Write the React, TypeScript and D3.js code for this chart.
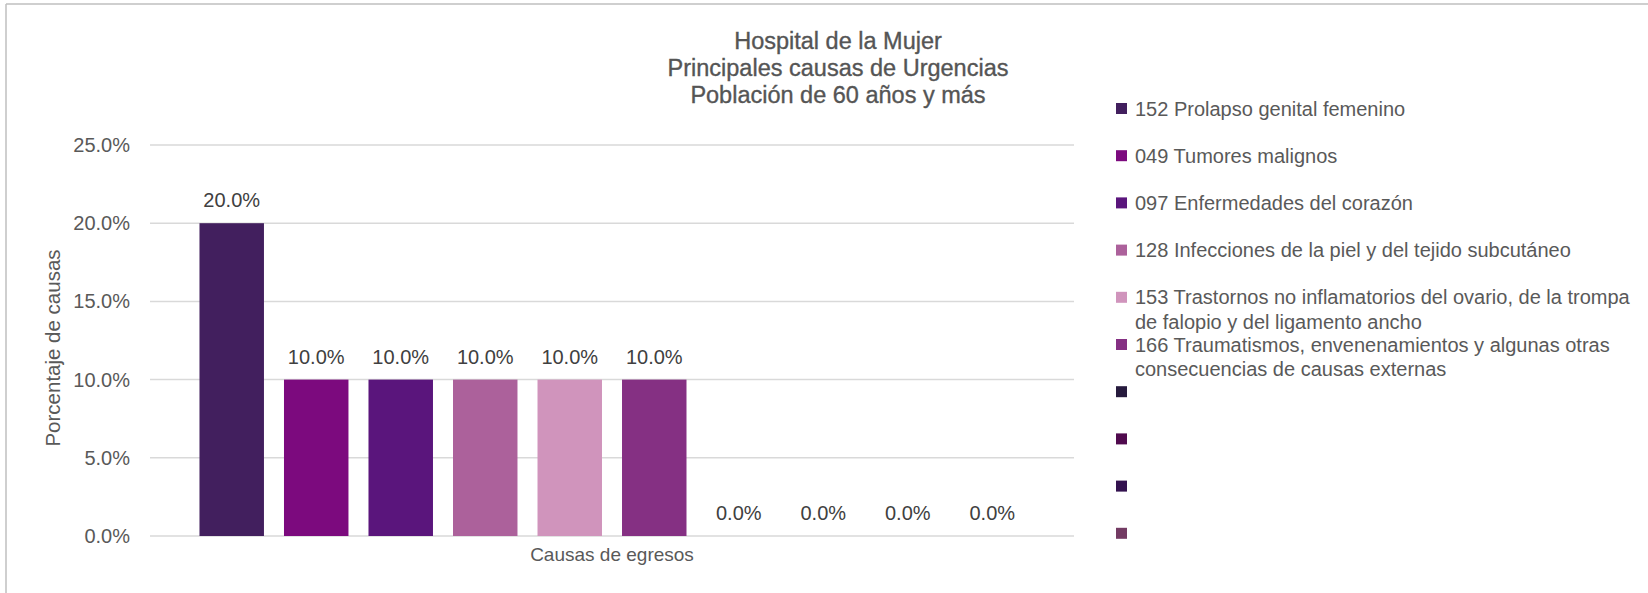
import React from "react";
import * as d3 from "d3";

const titleLines = [
  "Hospital de la Mujer",
  "Principales causas de Urgencias",
  "Población de 60 años y más",
];
const categories = ["Causas de egresos"];
const seriesNames = [
  "152 Prolapso genital femenino",
  "049 Tumores malignos",
  "097 Enfermedades del corazón",
  "128 Infecciones de la piel y del tejido subcutáneo",
  "153 Trastornos no inflamatorios del ovario, de la trompa\nde falopio y del ligamento ancho",
  "166 Traumatismos, envenenamientos y algunas otras\nconsecuencias de causas externas",
  "",
  "",
  "",
  "",
];
const seriesValues = [0.2, 0.1, 0.1, 0.1, 0.1, 0.1, 0, 0, 0, 0];
const seriesColors = [
  "#421F5E",
  "#7C0A7E",
  "#5A157C",
  "#AC619B",
  "#D094BC",
  "#853083",
  "#261A3D",
  "#500A4E",
  "#33124F",
  "#733B63",
];
const yTicks = [0, 0.05, 0.1, 0.15, 0.2, 0.25];
const yAxisTitle = "Porcentaje de causas";

const W = 1648;
const H = 593;
const FONT = "'Liberation Sans', Arial, sans-serif";

export default function App() {
  const y = d3.scaleLinear().domain([0, 0.25]).range([536, 145]);
  const x0 = d3
    .scaleBand<string>()
    .domain(categories)
    .range([150, 1074])
    .paddingInner(0)
    .paddingOuter(0.0467);
  const x1 = d3
    .scaleBand<number>()
    .domain(d3.range(seriesValues.length))
    .range([0, x0.bandwidth()])
    .paddingInner(0.237)
    .paddingOuter(0.1185);
  const fmt = d3.format(".1%");
  const cat = categories[0];
  const cx = (x0(cat) ?? 0) + x0.bandwidth() / 2;

  const legendX = 1116;
  const legendY0 = 108.5;
  const legendStep = 47.2;

  return (
    <svg
      width={W}
      height={H}
      style={{ position: "absolute", left: 0, top: 0, background: "#fff" }}
      fontFamily={FONT}
    >
      <rect x={0} y={0} width={W} height={H} fill="#fff" />
      {/* chart border */}
      <line x1={6} y1={4} x2={W} y2={4} stroke="#BFBFBF" strokeWidth={1.5} />
      <line x1={6} y1={4} x2={6} y2={H} stroke="#BFBFBF" strokeWidth={1.5} />

      {/* title */}
      {titleLines.map((t, i) => (
        <text
          key={i}
          x={838}
          y={48.5 + i * 27}
          textAnchor="middle"
          fontSize={23.5}
          fill="#555555"
          stroke="#555555"
          strokeWidth={0.35}
        >
          {t}
        </text>
      ))}

      {/* gridlines */}
      {yTicks.map((t) => (
        <line
          key={t}
          x1={150}
          x2={1074}
          y1={y(t)}
          y2={y(t)}
          stroke="#D9D9D9"
          strokeWidth={1.5}
        />
      ))}
      {/* y tick labels */}
      {yTicks.map((t) => (
        <text
          key={"l" + t}
          x={130}
          y={y(t) + 7}
          textAnchor="end"
          fontSize={20}
          fill="#595959"
        >
          {fmt(t)}
        </text>
      ))}

      {/* bars */}
      {seriesValues.map((v, i) => {
        const bx = (x0(cat) ?? 0) + (x1(i) ?? 0);
        return (
          <g key={i}>
            <rect
              x={bx}
              y={y(v)}
              width={x1.bandwidth()}
              height={y(0) - y(v)}
              fill={seriesColors[i]}
            />
            <text
              x={bx + x1.bandwidth() / 2}
              y={y(v) - 16}
              textAnchor="middle"
              fontSize={20}
              fill="#404040"
            >
              {fmt(v)}
            </text>
          </g>
        );
      })}

      {/* category label */}
      <text x={cx} y={561} textAnchor="middle" fontSize={19} fill="#595959">
        {cat}
      </text>

      {/* y axis title */}
      <text
        transform={`translate(59.5, 348) rotate(-90)`}
        textAnchor="middle"
        fontSize={20.5}
        fill="#595959"
      >
        {yAxisTitle}
      </text>

      {/* legend */}
      {seriesNames.map((name, i) => {
        const cy = legendY0 + i * legendStep;
        const lines = name.split("\n");
        return (
          <g key={"lg" + i}>
            <rect
              x={legendX}
              y={cy - 5.5}
              width={11}
              height={11}
              fill={seriesColors[i]}
            />
            {name !== "" && (
              <text fontSize={20} fill="#595959">
                {lines.map((ln, j) => (
                  <tspan key={j} x={legendX + 19} y={cy + 7 + j * 24.5}>
                    {ln}
                  </tspan>
                ))}
              </text>
            )}
          </g>
        );
      })}
    </svg>
  );
}
